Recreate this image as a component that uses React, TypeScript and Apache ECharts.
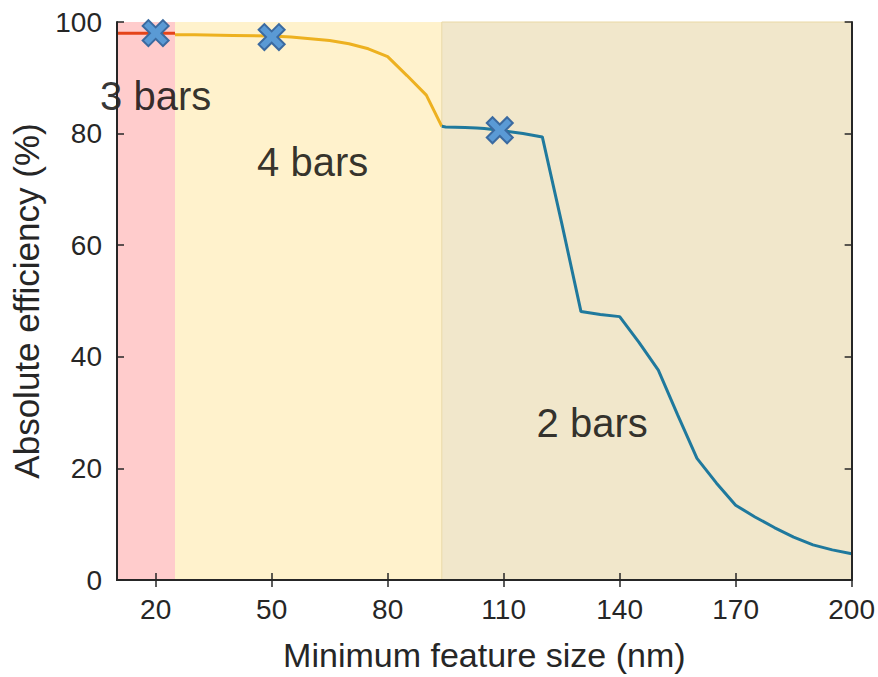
import React, { useEffect, useRef } from "react";
import * as echarts from "echarts";

const xTicks = [20, 50, 80, 110, 140, 170, 200];
const yTicks = [0, 20, 40, 60, 80, 100];

const regions = [
  { from: 10, to: 25, color: "#FFCCCC" },
  { from: 25, to: 94, color: "#FFF2CC" },
  { from: 94, to: 200, color: "#F1E7CB" },
];

const redX = [10, 25];
const redY = [98.0, 98.0];

const yellowX = [25, 30, 40, 50, 55, 60, 65, 70, 75, 80, 85, 90, 94];
const yellowY = [97.7, 97.7, 97.6, 97.5, 97.3, 97.0, 96.7, 96.1, 95.2, 93.8, 90.4, 86.9, 81.3];

const blueX = [94, 95, 100, 103, 105, 110, 115, 120, 125, 130, 135, 140, 145, 150, 155, 160, 165, 170, 175, 180, 185, 190, 195, 200];
const blueY = [81.3, 81.2, 81.1, 81.0, 80.9, 80.5, 80.0, 79.4, 64.0, 48.1, 47.6, 47.2, 42.6, 37.6, 29.6, 21.8, 17.4, 13.4, 11.3, 9.4, 7.7, 6.3, 5.4, 4.7];

const markerX = [20, 50, 109];
const markerY = [98.0, 97.3, 80.6];

const labelNames = ["3 bars", "4 bars", "2 bars"];
const labelX = [20, 60.6, 132.9];
const labelY = [86.8, 75.0, 28.2];

const FONT = "Arial, 'Liberation Sans', Helvetica, sans-serif";
const AXIS = "#262626";

const xPath =
  "path://M0 2.2 L2.2 0 L5 2.8 L7.8 0 L10 2.2 L7.2 5 L10 7.8 L7.8 10 L5 7.2 L2.2 10 L0 7.8 L2.8 5 Z";

function zip(xs: number[], ys: number[]) {
  return xs.map((x, i) => [x, ys[i]]);
}

export default function App() {
  const ref = useRef<HTMLDivElement>(null);
  useEffect(() => {
    document.body.style.margin = "0";
    if (!ref.current) return;
    const chart = echarts.init(ref.current, undefined, { renderer: "svg" });
    const axisLine = { show: true, lineStyle: { color: AXIS, width: 2 } };
    const option: any = {
      animation: false,
      backgroundColor: "#ffffff",
      grid: { left: 117, right: 26, top: 22, bottom: 97 },
      xAxis: [
        {
          type: "value",
          min: 10,
          max: 200,
          position: "bottom",
          axisLine,
          axisTick: { show: true, inside: true, length: 7, customValues: xTicks, lineStyle: { color: AXIS, width: 1.5 } },
          axisLabel: { show: true, customValues: xTicks, margin: 15, fontSize: 28, color: AXIS, fontFamily: FONT },
          splitLine: { show: false },
          name: "Minimum feature size (nm)",
          nameLocation: "middle",
          nameGap: 58,
          nameTextStyle: { fontSize: 34, color: AXIS, fontFamily: FONT },
          z: 10,
        },
        {
          type: "value",
          min: 10,
          max: 200,
          position: "top",
          axisLine,
          axisTick: { show: true, inside: true, length: 7, customValues: xTicks, lineStyle: { color: AXIS, width: 1.5 } },
          axisLabel: { show: false },
          splitLine: { show: false },
          z: 10,
        },
      ],
      yAxis: [
        {
          type: "value",
          min: 0,
          max: 100,
          interval: 20,
          position: "left",
          axisLine,
          axisTick: { show: true, inside: true, length: 7, customValues: yTicks, lineStyle: { color: AXIS, width: 1.5 } },
          axisLabel: { show: true, customValues: yTicks, margin: 15, fontSize: 28, color: AXIS, fontFamily: FONT },
          splitLine: { show: false },
          name: "Absolute efficiency (%)",
          nameLocation: "middle",
          nameGap: 70,
          nameTextStyle: { fontSize: 35, color: AXIS, fontFamily: FONT },
          z: 10,
        },
        {
          type: "value",
          min: 0,
          max: 100,
          interval: 20,
          position: "right",
          axisLine,
          axisTick: { show: true, inside: true, length: 7, customValues: yTicks, lineStyle: { color: AXIS, width: 1.5 } },
          axisLabel: { show: false },
          splitLine: { show: false },
          z: 10,
        },
      ],
      series: [
        {
          type: "line",
          name: "regions",
          data: [],
          z: 1,
          silent: true,
          markArea: {
            silent: true,
            data: regions.map((r, i) => [
              {
                xAxis: r.from,
                yAxis: 0,
                itemStyle: {
                  color: r.color,
                  borderColor: i === 2 ? "#EAD9A6" : r.color,
                  borderWidth: i === 2 ? 1 : 0,
                },
              },
              { xAxis: r.to, yAxis: 100 },
            ]),
          },
        },
        {
          type: "line",
          data: zip(redX, redY),
          showSymbol: false,
          lineStyle: { color: "#E4441A", width: 3 },
          z: 3,
        },
        {
          type: "line",
          data: zip(yellowX, yellowY),
          showSymbol: false,
          lineStyle: { color: "#EDB120", width: 3 },
          z: 3,
        },
        {
          type: "line",
          data: zip(blueX, blueY),
          showSymbol: false,
          lineStyle: { color: "#1F799D", width: 3 },
          z: 3,
        },
        {
          type: "scatter",
          data: zip(markerX, markerY),
          symbol: xPath,
          symbolSize: 26,
          itemStyle: { color: "#5A9AD5", borderColor: "#3B6AA0", borderWidth: 2, opacity: 1 },
          z: 5,
        },
        {
          type: "scatter",
          data: labelX.map((x, i) => ({ value: [x, labelY[i]], name: labelNames[i] })),
          symbolSize: 0,
          z: 6,
          label: {
            show: true,
            position: "inside",
            formatter: (p: any) => p.name,
            fontSize: 40,
            color: "#000000",
            textBorderWidth: 0,
            fontFamily: FONT,
          },
        },
      ],
    };
    chart.setOption(option);
    return () => chart.dispose();
  }, []);
  return <div ref={ref} style={{ width: 878, height: 677 }} />;
}
